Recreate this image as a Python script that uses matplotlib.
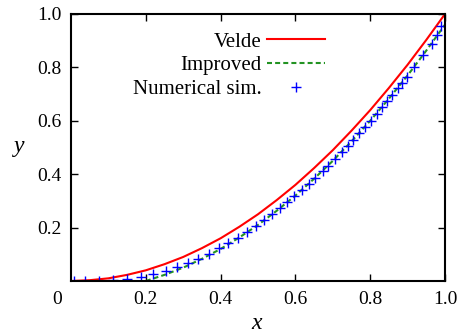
import matplotlib
matplotlib.use("Agg")
import matplotlib.pyplot as plt

plt.rcParams["font.family"] = ["Liberation Serif", "DejaVu Serif"]

# Velde curve
velde_x = [0.0, 0.05, 0.1, 0.15, 0.2, 0.25, 0.3, 0.35, 0.4, 0.45, 0.5,
           0.55, 0.6, 0.65, 0.7, 0.75, 0.8, 0.85, 0.9, 0.95, 1.0]
velde_y = [0.0, 0.003, 0.01, 0.023, 0.04, 0.063, 0.09, 0.123, 0.16, 0.203, 0.25,
           0.303, 0.36, 0.423, 0.49, 0.563, 0.64, 0.723, 0.81, 0.903, 1.0]

# Improved model
improved_x = [0.2, 0.25, 0.3, 0.35, 0.4, 0.45, 0.5, 0.55, 0.6, 0.65, 0.7,
              0.75, 0.8, 0.85, 0.9, 0.95, 1.0]
improved_y = [0.0, 0.023, 0.05, 0.083, 0.12, 0.163, 0.21, 0.263, 0.32, 0.383, 0.45,
              0.523, 0.6, 0.683, 0.77, 0.863, 0.96]

# Numerical simulation points
sim_x = [0.008, 0.037, 0.076, 0.112, 0.151, 0.186, 0.220, 0.254, 0.284, 0.314,
         0.340, 0.368, 0.397, 0.421, 0.446, 0.470, 0.494, 0.516, 0.538, 0.559,
         0.578, 0.597, 0.617, 0.636, 0.652, 0.673, 0.688, 0.706, 0.724, 0.741,
         0.755, 0.771, 0.786, 0.801, 0.817, 0.831, 0.845, 0.857, 0.873, 0.884,
         0.898, 0.918, 0.942, 0.964, 0.978, 0.989]
sim_y = [0.000, 0.000, 0.001, 0.005, 0.008, 0.014, 0.025, 0.039, 0.054, 0.068,
         0.081, 0.101, 0.124, 0.142, 0.162, 0.184, 0.206, 0.228, 0.250, 0.273,
         0.295, 0.318, 0.341, 0.364, 0.387, 0.412, 0.432, 0.457, 0.482, 0.506,
         0.528, 0.553, 0.578, 0.601, 0.627, 0.651, 0.675, 0.698, 0.722, 0.741,
         0.764, 0.800, 0.846, 0.886, 0.921, 0.955]

xticks = [0.2, 0.4, 0.6, 0.8, 1.0]
yticks = [0.2, 0.4, 0.6, 0.8, 1.0]
tick_labels = ["0.2", "0.4", "0.6", "0.8", "1.0"]

fig = plt.figure(figsize=(4.59, 3.35), dpi=100)
ax = fig.add_axes([71 / 459, 54 / 335, 374 / 459, 267 / 335])

ax.plot(velde_x, velde_y, color="#ff0000", lw=1.5, label="Velde")
ax.plot(improved_x, improved_y, color="#239323", lw=1.5, dashes=(2.4, 1.5),
        label="Improved")
ax.plot(sim_x, sim_y, ls="none", marker="+", ms=7, mew=1.0, color="#0000ff",
        label="Numerical sim.")

ax.set_xlim(0, 1)
ax.set_ylim(0, 1)
ax.set_xticks(xticks)
ax.set_xticklabels(tick_labels)
ax.set_yticks(yticks)
ax.set_yticklabels(tick_labels)
ax.tick_params(direction="in", length=5, width=1, top=True, right=True,
               labelsize=14)
ax.tick_params(axis="x", pad=7)
ax.tick_params(axis="y", pad=6.5)
for s in ax.spines.values():
    s.set_linewidth(1.5)

# lone "0" at the origin, set a bit to the left
ax.annotate("0", xy=(0, 0), xycoords="axes fraction", xytext=(-10, -7),
            textcoords="offset points", ha="center", va="top", fontsize=14)

ax.text(0.495, -0.18, "x", transform=ax.transAxes, ha="center",
        va="baseline", fontsize=17, fontstyle="italic")
ax.text(-0.139, 0.483, "y", transform=ax.transAxes, ha="center",
        va="baseline", fontsize=17, fontstyle="italic")

ax.legend(loc="upper right", bbox_to_anchor=(325 / 459, 1 - 32 / 335),
          bbox_transform=fig.transFigure, frameon=False, markerfirst=False,
          fontsize=15, handlelength=2.8, handletextpad=0.25, labelspacing=0.2,
          borderpad=0, borderaxespad=0)

fig.savefig("out.png", dpi=100)
